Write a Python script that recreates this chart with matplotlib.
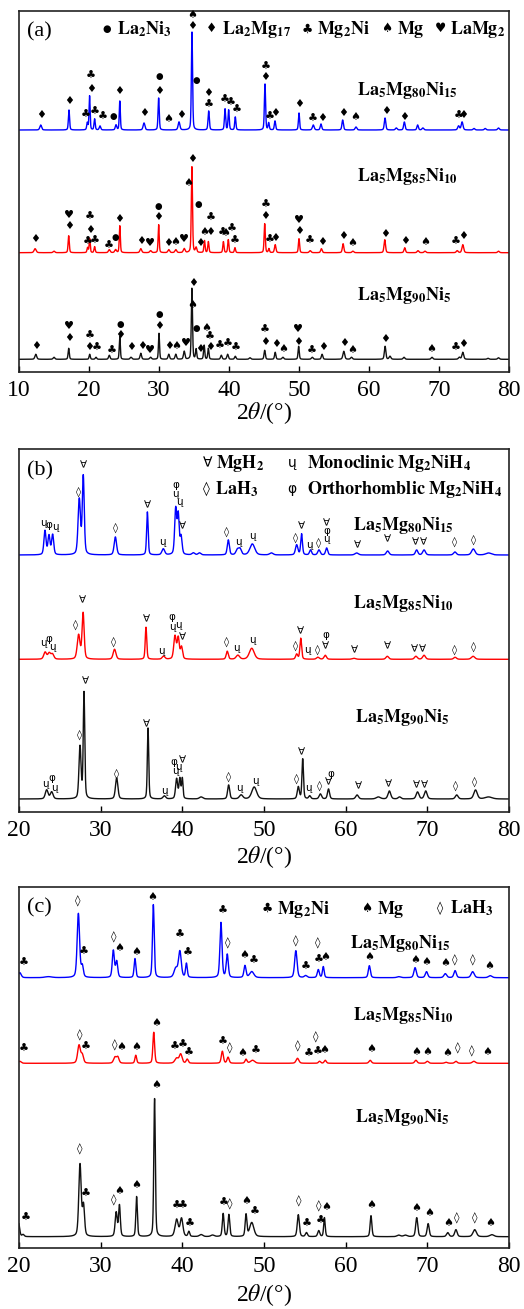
import numpy as np
import matplotlib
matplotlib.use('Agg')
import matplotlib.pyplot as plt

plt.rcParams['font.family'] = ['Liberation Serif', 'DejaVu Sans']
plt.rcParams['mathtext.fontset'] = 'stix'

# ------------------------------------------------------------------ data
x_ticks_a = [10, 20, 30, 40, 50, 60, 70, 80]
x_ticks_bc = [20, 30, 40, 50, 60, 70, 80]
samples = [r'$\mathbf{La_5Mg_{80}Ni_{15}}$', r'$\mathbf{La_5Mg_{85}Ni_{10}}$', r'$\mathbf{La_5Mg_{90}Ni_5}$']
colors = ['#0000ff', '#ff0000', '#111111']

# panel (a): baselines and peaks (2theta, height, fwhm)
a_bases = [242, 119.3, 12.7]
a_blue_peaks = [(13.1, 5, 0.3), (17.14, 20, 0.2), (19.76, 7, 0.2), (20.08, 34, 0.18), (20.8, 11, 0.2),
                (21.57, 4, 0.25), (23.86, 5, 0.25), (24.4, 29, 0.18), (27.86, 7, 0.3), (29.95, 32, 0.2),
                (32.86, 8, 0.3), (34.71, 98, 0.2), (37.1, 19, 0.22), (39.43, 21, 0.2), (39.95, 20, 0.2),
                (40.9, 13, 0.2), (45.14, 46, 0.2), (45.67, 7, 0.2), (46.57, 9, 0.22), (50.0, 17, 0.2),
                (52.04, 5, 0.3), (53.14, 6, 0.25), (56.24, 10, 0.25), (58.14, 3, 0.3), (62.29, 12, 0.25),
                (63.9, 2, 0.3), (65.05, 8, 0.25), (66.95, 5, 0.25), (67.7, 2, 0.3), (72.8, 4, 0.3),
                (73.3, 8, 0.3), (75.0, 1.5, 0.3), (76.6, 1.5, 0.3), (78.5, 2, 0.3)]
a_red_peaks = [(12.3, 4, 0.35), (15.0, 1.5, 0.3), (17.1, 17, 0.2), (19.8, 5, 0.2), (20.1, 14, 0.18),
               (20.8, 6, 0.2), (22.9, 3, 0.3), (23.8, 3, 0.3), (24.4, 27, 0.18), (27.4, 4, 0.3),
               (28.8, 2, 0.3), (29.95, 28, 0.18), (31.4, 3, 0.3), (32.4, 3, 0.3), (33.6, 4, 0.3),
               (34.7, 86, 0.2), (35.3, 5, 0.25), (36.5, 12, 0.2), (37.05, 11, 0.2), (39.2, 11, 0.2),
               (39.9, 13, 0.2), (40.85, 5, 0.2), (45.1, 29, 0.2), (45.7, 4, 0.2), (46.6, 8, 0.25),
               (50.0, 14, 0.2), (51.6, 2, 0.3), (53.2, 4, 0.25), (56.3, 9, 0.25), (57.7, 1.5, 0.3),
               (62.25, 13, 0.25), (65.1, 5, 0.25), (67.0, 2, 0.3), (68.0, 1.5, 0.3), (72.6, 2, 0.3),
               (73.4, 8, 0.3), (78.5, 1.5, 0.3)]
a_black_peaks = [(12.4, 5, 0.3), (15.0, 2, 0.3), (17.1, 11, 0.2), (20.1, 5, 0.2), (21.0, 2, 0.25),
                 (22.9, 4, 0.25), (24.4, 23, 0.18), (26.0, 2, 0.3), (27.4, 6, 0.25), (28.8, 2, 0.3),
                 (30.0, 26, 0.18), (31.4, 5, 0.25), (32.4, 5, 0.25), (33.6, 8, 0.25), (34.7, 71, 0.2),
                 (35.3, 10, 0.2), (36.45, 14, 0.2), (37.05, 11, 0.2), (38.9, 4, 0.25), (39.8, 5, 0.25),
                 (40.9, 3, 0.25), (43.0, 1.5, 0.3), (45.1, 9, 0.22), (46.6, 7, 0.22), (47.7, 2, 0.3),
                 (49.95, 13, 0.2), (51.9, 2, 0.3), (53.3, 5, 0.25), (56.4, 8, 0.3), (57.5, 2, 0.3),
                 (62.3, 13, 0.25), (63.0, 3, 0.3), (65.0, 2, 0.3), (69.0, 2, 0.3), (72.9, 2, 0.3),
                 (73.4, 7, 0.3), (77.0, 1, 0.3), (78.5, 1.5, 0.3)]

# panel (a) phase marks: (2theta, level, symbol)
a_blue_marks = [(13.1, 257, '♦'), (17.14, 271, '♦'), (19.5, 257, '♣'), (20.3, 296, '♣'), (20.25, 283, '♦'),
                (20.86, 260, '♣'), (22.0, 255, '♣'), (23.45, 256, '●'), (24.35, 281, '♦'), (27.86, 259, '♦'),
                (30.0, 295, '●'), (30.0, 281, '♦'), (31.38, 253, '♠'), (33.2, 257, '♦'), (34.8, 357, '♠'),
                (34.8, 346, '♦'), (35.3, 291, '●'), (37.05, 279, '♦'), (37.05, 267, '♣'), (39.43, 272, '♣'),
                (40.2, 269, '♣'), (41.07, 262, '♣'), (45.2, 305, '♣'), (45.2, 295, '♦'), (45.86, 255, '♣'),
                (46.62, 259, '♦'), (50.0, 268, '♦'), (51.9, 253, '♣'), (53.33, 254, '♦'), (56.33, 259, '♦'),
                (58.05, 255, '♠'), (62.38, 261, '♦'), (65.0, 255, '♦'), (72.8, 256, '♣'), (73.5, 257, '♦')]
a_red_marks = [(12.29, 133, '♦'), (17.14, 157, '♥'), (17.14, 146, '♦'), (19.76, 130.3, '♣'), (20.14, 155.3, '♣'),
               (20.1, 142, '♦'), (20.86, 131.3, '♣'), (22.76, 126, '♣'), (23.71, 134.7, '●'), (24.33, 153, '♦'),
               (27.38, 131.3, '♦'), (28.71, 129.3, '♥'), (29.9, 166, '●'), (29.9, 155.3, '♦'), (31.33, 128.7, '♦'),
               (32.38, 129.7, '♠'), (33.62, 132.7, '♥'), (34.76, 213, '♦'), (34.2, 189.3, '♠'), (35.62, 168, '●'),
               (35.86, 129.3, '♦'), (36.43, 140.3, '♠'), (37.38, 153.7, '♣'), (37.29, 140.3, '♦'), (39.1, 139.3, '♣'),
               (39.52, 138.7, '♠'), (40.38, 142.7, '♣'), (40.86, 131.3, '♣'), (45.2, 167, '♣'), (45.2, 156, '♦'),
               (45.76, 132, '♣'), (46.57, 134.3, '♦'), (50.0, 152, '♥'), (50.0, 141, '♦'), (51.57, 131.3, '♣'),
               (53.24, 130.3, '♦'), (56.33, 136, '♦'), (57.67, 128.7, '♠'), (62.29, 138, '♦'), (65.14, 131.3, '♦'),
               (68.0, 130.3, '♠'), (72.43, 129.7, '♣'), (73.48, 136, '♦')]
a_black_marks = [(12.4, 26.3, '♦'), (17.2, 46, '♥'), (17.2, 33.7, '♦'), (20.05, 36, '♣'), (20.05, 24.7, '♦'),
                 (21.1, 23.7, '♣'), (23.24, 21.3, '♣'), (24.43, 48, '●'), (24.43, 37, '♦'), (26.0, 24.7, '♦'),
                 (27.52, 26.3, '♦'), (28.71, 22, '♥'), (30.05, 57, '●'), (30.05, 46, '♦'), (31.43, 26.3, '♦'),
                 (32.52, 26.3, '♠'), (33.86, 29.3, '♥'), (34.81, 89.3, '♦'), (34.75, 67, '♠'), (35.38, 43.7, '●'),
                 (35.86, 23, '♦'), (36.71, 43.7, '♠'), (37.29, 35.3, '♣'), (37.29, 25.3, '♦'), (38.71, 26.3, '♣'),
                 (39.81, 27.7, '♣'), (40.95, 23.7, '♣'), (45.14, 42, '♣'), (45.14, 30.3, '♦'), (46.67, 28, '♦'),
                 (47.76, 23, '♠'), (49.9, 42.7, '♥'), (49.9, 30.3, '♦'), (51.81, 21.3, '♣'), (53.38, 24.7, '♦'),
                 (56.43, 28.7, '♦'), (57.62, 22, '♠'), (62.29, 32.7, '♦'), (68.95, 23, '♠'), (72.43, 23.7, '♣'),
                 (73.48, 28, '♦')]

# panel (b)
b_bases = [257, 152.7, 13]
b_blue_peaks = [(23.18, 24, 0.3), (23.67, 19, 0.3), (24.12, 20, 0.3), (27.38, 55, 0.35), (27.87, 78, 0.28),
                (31.8, 18, 0.35), (35.72, 43, 0.22), (37.67, 6, 0.4), (39.19, 46, 0.3), (39.5, 38, 0.25),
                (39.84, 18, 0.3), (41.35, 2, 0.4), (42.1, 2, 0.4), (45.63, 15, 0.3), (46.73, 5, 0.4),
                (47.06, 6, 0.4), (48.57, 11, 0.7), (50.9, 2, 0.5), (54.0, 10, 0.35), (54.6, 21, 0.25),
                (55.7, 5, 0.3), (56.73, 5, 0.35), (57.67, 7, 0.3), (61.35, 2, 0.5), (65.14, 4, 0.4),
                (68.69, 5, 0.35), (69.6, 5, 0.4), (73.38, 3, 0.4), (75.63, 6, 0.5), (77.5, 2, 0.8)]
b_red_peaks = [(23.2, 7, 0.4), (23.7, 6, 0.4), (24.1, 5, 0.4), (27.3, 24, 0.4), (27.85, 46, 0.3),
               (31.7, 10, 0.4), (35.55, 32, 0.22), (37.7, 3, 0.4), (39.1, 23, 0.35), (39.5, 21, 0.3),
               (39.9, 12, 0.3), (45.5, 8, 0.3), (46.8, 4, 0.5), (48.5, 11, 0.7), (54.0, 5, 0.3),
               (54.5, 21, 0.25), (56.6, 2, 0.4), (57.5, 4, 0.35), (61.0, 1, 0.5), (65.1, 3, 0.4),
               (68.6, 3, 0.4), (69.6, 4, 0.4), (73.4, 2, 0.4), (75.6, 3, 0.5)]
b_black_peaks = [(23.39, 9, 0.4), (24.0, 7, 0.4), (27.47, 52, 0.3), (27.96, 106, 0.22), (31.96, 21, 0.35),
                 (35.8, 71, 0.2), (37.8, 3, 0.4), (39.3, 20, 0.3), (39.7, 20, 0.25), (40.0, 20, 0.2),
                 (42.3, 2, 0.5), (45.67, 14, 0.3), (47.2, 4, 0.5), (48.8, 12, 0.7), (54.2, 12, 0.3),
                 (54.74, 40, 0.22), (55.6, 3, 0.3), (56.9, 5, 0.35), (57.9, 10, 0.3), (61.4, 4, 0.4),
                 (64.0, 2, 0.6), (65.35, 8, 0.4), (66.6, 2, 0.4), (68.8, 7, 0.4), (69.8, 8, 0.4),
                 (73.6, 4, 0.4), (75.9, 9, 0.5), (77.5, 2, 1.0)]
b_blue_marks = [(22.98, 288.7, 'ų'), (23.71, 287, 'φ'), (24.41, 285.3, 'ų'), (27.31, 320.3, '◊'), (27.87, 347, '∀'),
                (31.79, 284.7, '◊'), (35.71, 307, '∀'), (37.55, 270.3, 'ų'), (39.18, 327, 'φ'), (39.18, 317.7, 'ų'),
                (39.59, 310.3, 'ų'), (39.96, 285.3, '∀'), (45.43, 280.3, '◊'), (46.86, 270.3, 'ų'), (48.57, 276, 'ų'),
                (53.88, 274.7, '◊'), (54.61, 286, '∀'), (55.55, 267, 'ų'), (56.65, 269.7, '◊'), (57.67, 288.7, '∀'),
                (57.67, 281.3, 'φ'), (57.67, 273, 'ų'), (61.43, 267, '∀'), (65.14, 272.7, '∀'), (68.57, 269.3, '∀'),
                (69.51, 269.3, '∀'), (73.39, 270.3, '◊'), (75.63, 272, '◊')]
b_red_marks = [(22.98, 168.7, 'ų'), (23.71, 172.7, 'φ'), (24.12, 164.7, 'ų'), (26.98, 187, '◊'), (27.8, 212, '∀'),
               (31.55, 170.3, '◊'), (35.55, 192.7, '∀'), (37.47, 161.3, 'ų'), (38.77, 195.3, 'φ'), (38.77, 185.3, 'ų'),
               (39.51, 187, 'ų'), (40.04, 174.7, '∀'), (45.43, 170.3, '◊'), (46.65, 163.7, 'ų'), (48.57, 172, 'ų'),
               (53.88, 166, '◊'), (54.41, 181, '∀'), (55.31, 162, 'ų'), (56.53, 162, '◊'), (57.55, 177, 'φ'),
               (57.47, 166, '∀'), (61.06, 161.3, '∀'), (65.14, 165.3, '∀'), (68.45, 163, '∀'), (69.35, 163, '∀'),
               (73.39, 162, '◊'), (75.63, 165.3, '◊')]
b_black_marks = [(23.26, 28, 'ų'), (24.0, 34.3, 'φ'), (24.29, 23.7, 'ų'), (27.47, 77, '◊'), (28.08, 130.3, '∀'),
                 (31.96, 38.7, '◊'), (35.67, 87.7, '∀'), (37.79, 21, 'ų'), (38.98, 49.7, 'φ'), (39.1, 41, 'ų'),
                 (39.51, 45.3, 'ų'), (40.0, 51.3, '∀'), (45.63, 35.3, '◊'), (46.98, 24.3, 'ų'), (48.9, 31, 'ų'),
                 (54.0, 33.7, '◊'), (54.61, 59.7, '∀'), (55.43, 23.7, 'ų'), (56.78, 26.3, '◊'), (58.16, 37.7, 'φ'),
                 (57.88, 29.3, '∀'), (61.55, 26, '∀'), (65.3, 28, '∀'), (68.69, 27, '∀'), (69.63, 27, '∀'),
                 (73.51, 26.3, '◊'), (75.75, 30.3, '◊')]

# panel (c)
c_bases = [270.3, 184.7, 11.3]
c_blue_peaks = [(20.1, 5, 0.4), (23.6, 1, 1.0), (27.27, 64, 0.35), (27.75, 11, 0.3), (31.55, 27, 0.3),
                (31.96, 16, 0.3), (34.2, 19, 0.25), (36.45, 73, 0.25), (39.2, 9, 0.5), (39.7, 26, 0.4),
                (40.5, 14, 0.25), (44.73, 55, 0.3), (45.5, 23, 0.3), (47.67, 12, 0.3), (48.5, 6, 0.6),
                (53.9, 27, 0.35), (55.1, 2, 0.4), (56.65, 8, 0.3), (57.26, 11, 0.25), (62.9, 12, 0.3),
                (66.5, 1, 0.5), (68.5, 10, 0.35), (69.9, 6, 0.35), (72.2, 4, 0.4), (73.4, 7, 0.35),
                (75.55, 6, 0.45), (77.7, 2, 0.5)]
c_red_peaks = [(20.1, 2, 0.4), (27.35, 18, 0.4), (27.75, 8, 0.35), (31.75, 6, 0.4), (32.1, 6, 0.35),
               (34.3, 8, 0.25), (36.5, 31, 0.25), (39.3, 5, 0.5), (39.8, 9, 0.4), (40.6, 4, 0.3),
               (44.9, 12, 0.3), (45.6, 6, 0.3), (47.8, 4, 0.3), (48.6, 3, 0.6), (54.1, 5, 0.4),
               (56.8, 2, 0.3), (57.5, 3, 0.3), (63.0, 3, 0.35), (68.6, 3, 0.35), (70.0, 2, 0.35),
               (72.3, 1, 0.4), (73.5, 2, 0.35), (75.7, 2, 0.45)]
c_black_peaks = [(19.95, 14, 0.3), (20.5, 2, 0.3), (27.47, 72, 0.35), (27.9, 30, 0.3), (31.9, 24, 0.3),
                 (32.3, 31, 0.25), (34.4, 40, 0.22), (36.6, 138, 0.22), (39.3, 17, 0.45), (39.9, 18, 0.4),
                 (40.8, 5, 0.25), (42.3, 2, 0.5), (43.7, 1.5, 0.5), (45.0, 23, 0.25), (45.7, 22, 0.25),
                 (47.8, 22, 0.25), (48.5, 14, 0.6), (54.2, 22, 0.3), (55.2, 4, 0.3), (56.7, 6, 0.3),
                 (57.4, 19, 0.22), (63.1, 21, 0.25), (66.5, 1.5, 0.5), (67.3, 1.5, 0.5), (68.7, 19, 0.3),
                 (70.1, 13, 0.3), (72.5, 4, 0.35), (73.5, 7, 0.35), (75.8, 7, 0.5), (77.9, 2, 0.6)]
c_blue_marks = [(20.53, 285.3, '♣'), (27.14, 346.3, '◊'), (27.96, 296.3, '♣'), (31.55, 310.3, '◊'), (32.28, 299.7, '♠'),
                (34.33, 296.3, '♠'), (36.37, 351.3, '♠'), (39.71, 313, '♣'), (40.61, 294.7, '♣'), (44.94, 337.3, '♣'),
                (45.59, 304.7, '◊'), (47.55, 293, '♠'), (48.69, 287, '♣'), (53.92, 307, '◊'), (55.14, 280.7, '♣'),
                (56.53, 304.7, '◊'), (56.65, 288, '♣'), (57.47, 291.3, '♠'), (62.9, 290.7, '♠'), (68.49, 288, '♠'),
                (69.84, 286.3, '♠'), (72.16, 285.3, '♠'), (73.31, 288, '◊'), (75.55, 288, '◊'), (77.59, 282, '♠')]
c_red_marks = [(20.53, 198.7, '♣'), (27.47, 213, '◊'), (28.12, 201.3, '♣'), (31.67, 203, '◊'), (32.49, 201.3, '♠'),
               (34.41, 201.3, '♠'), (36.78, 225.3, '♠'), (39.1, 201.3, '♣'), (40.04, 203, '♣'), (40.82, 195.3, '♣'),
               (44.9, 206.3, '♣'), (45.76, 199.7, '◊'), (47.35, 195.3, '♠'), (48.98, 197, '♣'), (54.12, 201.3, '◊'),
               (55.43, 194, '♣'), (56.37, 210.7, '◊'), (56.57, 195.7, '♣'), (57.35, 198, '♠'), (63.1, 198.7, '♠'),
               (68.69, 195.7, '♠'), (70.04, 195.7, '♠'), (72.45, 194.7, '♠'), (73.72, 199.7, '◊'), (75.43, 196.3, '◊'),
               (77.35, 195.7, '♠')]
c_black_marks = [(20.82, 29.7, '♣'), (27.47, 98.7, '◊'), (28.2, 53.7, '♣'), (31.55, 48, '◊'), (32.28, 57.3, '♠'),
                 (34.41, 63, '♠'), (36.78, 163, '♠'), (39.31, 42, '♣'), (40.04, 42, '♣'), (40.94, 24, '♣'),
                 (45.02, 45.3, '♣'), (45.84, 44, '◊'), (47.88, 47.3, '♠'), (48.9, 36.3, '♣'), (54.2, 47, '◊'),
                 (55.22, 24, '♣'), (56.73, 41.3, '◊'), (56.94, 27.3, '♣'), (57.67, 41.3, '♠'), (63.18, 43, '♠'),
                 (68.69, 39.7, '♠'), (70.24, 34.7, '♠'), (72.57, 25.3, '♠'), (73.59, 29.7, '◊'), (75.8, 29.7, '◊'),
                 (77.67, 25.3, '♠')]

# ------------------------------------------------------------------ drawing
W, H = 524, 1309
fig = plt.figure(figsize=(W / 100, H / 100), dpi=100)


def profile(x, peaks):
    y = np.zeros_like(x)
    for c, h, w in peaks:
        g = np.exp(-4 * np.log(2) * (x - c) ** 2 / w ** 2)
        l = 1.0 / (1.0 + ((x - c) / (w / 2)) ** 2)
        y += h * (0.65 * g + 0.35 * l)
    return y


def ftext(px, py, s, **kw):
    fig.text(px / W, 1 - py / H, s, **kw)


def panel(top, bottom, xlim, ticks, bases, peaks_list, marks_list, msize):
    ax = fig.add_axes([19 / W, 1 - bottom / H, 490 / W, (bottom - top) / H])
    x = np.linspace(xlim[0], xlim[1], 8000)
    for base, peaks, marks, col in zip(bases, peaks_list, marks_list, colors):
        ax.plot(x, base + profile(x, peaks), color=col, lw=1.0)
        for mx, my, s in marks:
            fs = msize * 0.78 if s == '●' else msize
            ax.text(mx, my, s, ha='center', va='center', fontsize=fs,
                    family='DejaVu Sans', color='black')
    ax.set_xlim(*xlim)
    ax.set_ylim(0, bottom - top)
    ax.set_xticks(ticks)
    ax.set_yticks([])
    ax.tick_params(axis='x', direction='in', length=4, width=1, labelsize=17, pad=6)
    for sp in ax.spines.values():
        sp.set_linewidth(1.2)
        sp.set_color('#222222')
    return ax


# (a)
panel(11, 372, (10, 80), x_ticks_a, a_bases,
      [a_blue_peaks, a_red_peaks, a_black_peaks],
      [a_blue_marks, a_red_marks, a_black_marks], 8)
# (b)
panel(449, 812, (20, 80), x_ticks_bc, b_bases,
      [b_blue_peaks, b_red_peaks, b_black_peaks],
      [b_blue_marks, b_red_marks, b_black_marks], 7.5)
# (c)
panel(887, 1248, (20, 80), x_ticks_bc, c_bases,
      [c_blue_peaks, c_red_peaks, c_black_peaks],
      [c_blue_marks, c_red_marks, c_black_marks], 8)

# x labels
for py in (413, 857, 1295):
    ftext(264, py, r'2$\theta$/(°)', ha='center', va='center', fontsize=17)

# panel letters
ftext(27, 36, '(a)', fontsize=16, va='baseline')
ftext(27, 475, '(b)', fontsize=16, va='baseline')
ftext(27, 912, '(c)', fontsize=16, va='baseline')

# sample labels
for (px, py), s in zip([(357, 95), (357, 181), (357, 300)], samples):
    ftext(px, py, s, fontsize=13, va='baseline')
for (px, py), s in zip([(353, 530), (353, 608), (355, 722)], samples):
    ftext(px, py, s, fontsize=13, va='baseline')
for (px, py), s in zip([(350, 948), (353, 1020), (355, 1122)], samples):
    ftext(px, py, s, fontsize=13, va='baseline')

# legend (a)
leg_a = [(107, '●', r'$\mathbf{La_2Ni_3}$'), (212, '♦', r'$\mathbf{La_2Mg_{17}}$'),
         (307, '♣', r'$\mathbf{Mg_2Ni}$'), (387, '♠', r'$\mathbf{Mg}$'), (440, '♥', r'$\mathbf{LaMg_2}$')]
for px, sym, lab in leg_a:
    fs = 7 if sym == '●' else 9
    ftext(px, 29, sym, ha='center', va='center', fontsize=fs, family='DejaVu Sans')
    ftext(px + 10, 34.5, lab, fontsize=13, va='baseline')

# legend (b)
leg_b = [(208, 468, '∀', 216, r'$\mathbf{MgH_2}$'), (292, 468, 'ų', 307, r'$\mathbf{Monoclinic\ Mg_2NiH_4}$'),
         (206, 494, '◊', 215, r'$\mathbf{LaH_3}$'), (292, 494, 'φ', 307, r'$\mathbf{Orthorhomblic\ Mg_2NiH_4}$')]
for px, py, sym, tx, lab in leg_b:
    ftext(px, py - 5, sym, ha='center', va='center', fontsize=10, family='DejaVu Sans')
    ftext(tx, py, lab, fontsize=13, va='baseline')

# legend (c)
leg_c = [(267, '♣', r'$\mathbf{Mg_2Ni}$'), (367, '♠', r'$\mathbf{Mg}$'), (440, '◊', r'$\mathbf{LaH_3}$')]
for px, sym, lab in leg_c:
    ftext(px, 908, sym, ha='center', va='center', fontsize=9, family='DejaVu Sans')
    ftext(px + 10, 913.5, lab, fontsize=13, va='baseline')

fig.savefig('out.png', dpi=100)
